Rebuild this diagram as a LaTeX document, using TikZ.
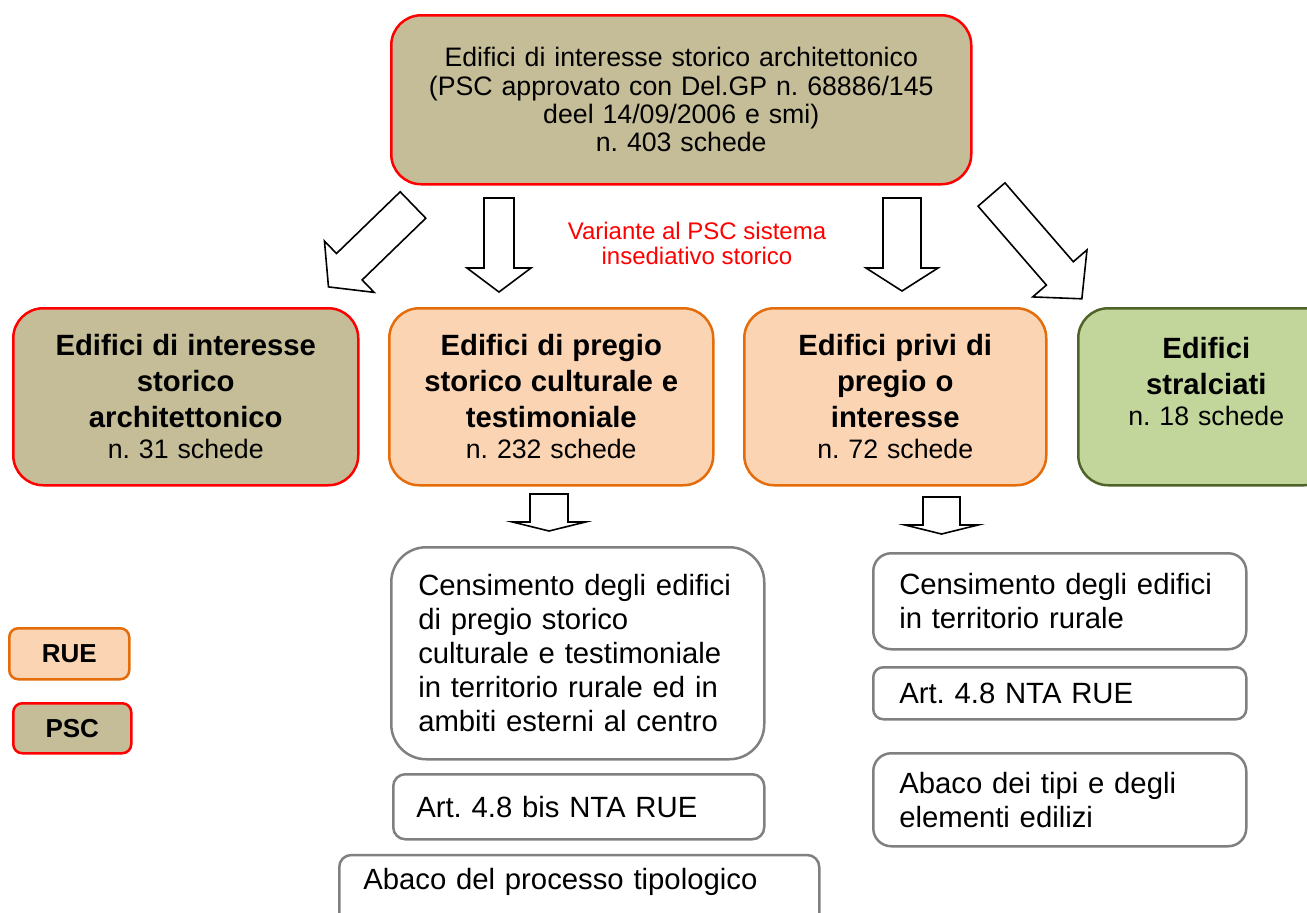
\documentclass[tikz,border=0pt]{standalone}
\usepackage{fontspec}
\setmainfont{Liberation Sans}
\usetikzlibrary{positioning}
\definecolor{psc-fill}{RGB}{196,189,151}
\definecolor{psc-red}{RGB}{255,0,0}
\definecolor{rue-fill}{RGB}{251,212,180}
\definecolor{rue-orange}{RGB}{228,108,10}
\definecolor{str-fill}{RGB}{194,214,155}
\definecolor{str-green}{RGB}{79,98,40}
\definecolor{box-gray}{RGB}{128,128,128}
\newcommand{\titolo}[1]{{\fontsize{29.3}{36}\selectfont\bfseries #1\par}}
\frenchspacing
\hyphenpenalty=10000
\exhyphenpenalty=10000
\tikzset{
  box/.style={anchor=north west, line width=2.5pt, inner sep=0pt,
    align=center, font=\fontsize{26.7}{31}\selectfont},
  psc/.style={box, draw=psc-red, fill=psc-fill, rounded corners=30pt},
  rue/.style={box, draw=rue-orange, fill=rue-fill, rounded corners=30pt},
  stralcio/.style={box, draw=str-green, fill=str-fill, rounded corners=30pt},
  graybox/.style={anchor=north west, draw=box-gray, line width=2.5pt,
    fill=white, align=left, inner ysep=0pt, font=\fontsize{29.3}{34}\selectfont},
  legenda/.style={line width=2.5pt, rounded corners=9pt, anchor=north west,
    inner sep=0pt, font=\fontsize{26}{30}\selectfont\bfseries},
  bigarrow/.style={draw=black, line width=1.6pt, fill=white, line join=miter},
  pics/freccia/.style n args={4}{code={
    \draw[bigarrow] (0,-#2) -- ({#1-#4},-#2) -- ({#1-#4},-#3) -- (#1,0)
      -- ({#1-#4},#3) -- ({#1-#4},#2) -- (0,#2) -- cycle;
  }}
}

\begin{document}
\begin{tikzpicture}[x=1pt,y=-1pt]
  \useasboundingbox (0,0) rectangle (1307,913);

  % scheda di partenza
  \node[psc, minimum width=580pt, minimum height=169pt, text width=560pt,
    font=\fontsize{26.7}{28.3}\selectfont] (psc) at (390,14)
    {Edifici di interesse storico architettonico\\(PSC approvato con Del.GP n. 68886/145\\deel 14/09/2006 e smi)\\n. 403 schede};

  % frecce verso le quattro categorie
  \coordinate (f1) at (413,205);
  \coordinate (f2) at (499,198);
  \coordinate (f3) at (902,198);
  \coordinate (f4) at (991.5,194.5);
  \pic[rotate=224.1] at (f1) {freccia={117.7}{18.4}{35.7}{29}};
  \pic[rotate=-90] at (f2) {freccia={94}{15}{32}{24}};
  \pic[rotate=-90] at (f3) {freccia={93}{19}{36}{23}};
  \pic[rotate=-49.1] at (f4) {freccia={138}{17.8}{35.9}{33.6}};

  \node[text=psc-red, align=center, font=\fontsize{24}{25}\selectfont] (variante) at (697,243)
    {Variante al PSC sistema\\insediativo storico};

  % categorie
  \node[psc, minimum width=345pt, minimum height=177pt, text width=320pt] (interesse) at (12,307)
    {\titolo{Edifici di interesse\\storico\\architettonico}n. 31 schede};
  \node[rue, minimum width=324pt, minimum height=177pt, text width=300pt] (pregio) at (388,307)
    {\titolo{Edifici di pregio\\storico culturale e\\testimoniale}n. 232 schede};
  \node[rue, minimum width=302pt, minimum height=177pt, text width=280pt] (privi) at (743,307)
    {\titolo{Edifici privi di\\pregio o\\interesse}n. 72 schede};
  \node[stralcio, minimum width=256pt, minimum height=177pt, text width=236pt] (stralciati) at (1077,307)
    {\titolo{Edifici\\stralciati}n. 18 schede\\\mbox{}};

  \coordinate (f5) at (549,494);
  \coordinate (f6) at (941.5,497);
  \pic[rotate=-90] at (f5) {freccia={37}{19}{36.5}{9}};
  \pic[rotate=-90] at (f6) {freccia={37}{18.5}{36.5}{9}};

  % strumenti RUE
  \node[graybox, rounded corners=35pt, minimum width=373pt, minimum height=212pt,
    inner xsep=27pt, text width=319pt] (cens1) at (390,546)
    {Censimento degli edifici\\di pregio storico\\culturale e testimoniale\\in territorio rurale ed in\\ambiti esterni al centro};
  \node[graybox, rounded corners=12pt, minimum width=371pt, minimum height=65pt,
    inner xsep=23pt, text width=325pt] (art1) at (392,773)
    {Art. 4.8 bis NTA RUE};
  \node[graybox, rounded corners=12pt, anchor=base west, inner xsep=24pt,
    text width=432pt, text height=34pt, text depth=41pt] (abaco1) at (338,889)
    {Abaco del processo tipologico};

  \node[graybox, rounded corners=18pt, minimum width=373pt, minimum height=96pt,
    inner xsep=26pt, text width=321pt] (cens2) at (872,552)
    {Censimento degli edifici\\in territorio rurale};
  \node[graybox, rounded corners=10pt, minimum width=373pt, minimum height=52pt,
    inner xsep=26pt, text width=321pt] (art2) at (872,666)
    {Art. 4.8 NTA RUE};
  \node[graybox, rounded corners=18pt, minimum width=373pt, minimum height=93pt,
    inner xsep=26pt, text width=321pt] (abaco2) at (872,752)
    {Abaco dei tipi e degli\\elementi edilizi};

  % legenda
  \node[legenda, draw=rue-orange, fill=rue-fill, minimum width=120pt, minimum height=51pt] (legrue) at (8,627) {RUE};
  \node[legenda, draw=psc-red, fill=psc-fill, minimum width=118pt, minimum height=50pt] (legpsc) at (12,702) {PSC};
\end{tikzpicture}
\end{document}
